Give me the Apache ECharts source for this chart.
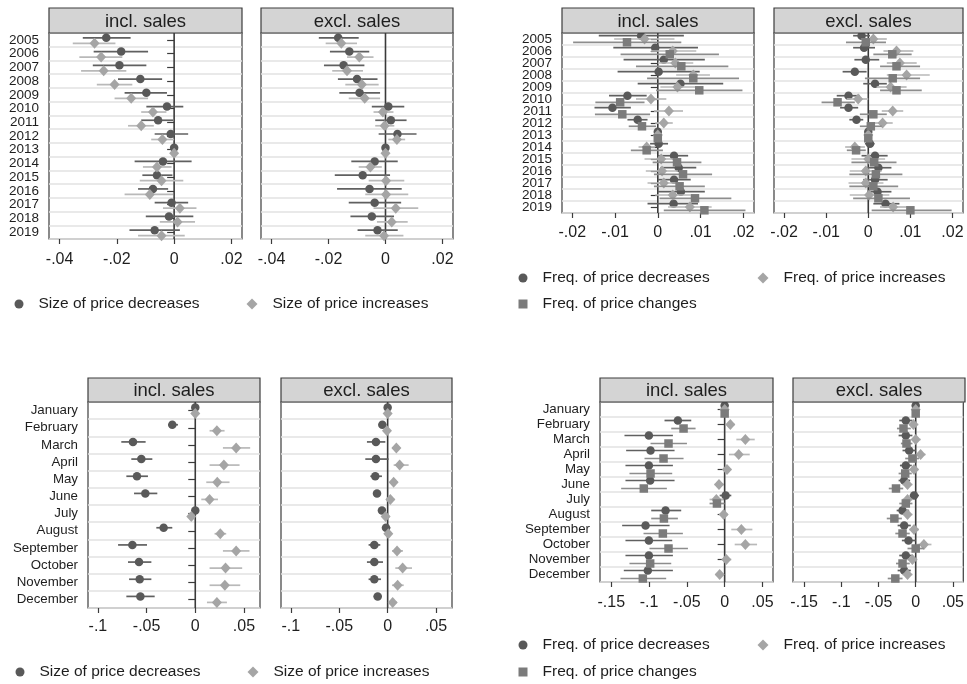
<!DOCTYPE html>
<html><head><meta charset="utf-8">
<script src="https://cdn.jsdelivr.net/npm/echarts@6/dist/echarts.min.js"></script>
<style>html,body{margin:0;padding:0;background:#fff}#c{width:967px;height:684px}</style>
</head><body><div id="c"></div>
<script>
// ---------- categories & tick labels ----------
const years = ['2005','2006','2007','2008','2009','2010','2011','2012','2013','2014','2015','2016','2017','2018','2019'];
const months = ['January','February','March','April','May','June','July','August','September','October','November','December'];
const ticksA = [-0.04, -0.02, 0, 0.02];
const ticksB = [-0.02, -0.01, 0, 0.01, 0.02];
const ticksC = [-0.1, -0.05, 0, 0.05];
const ticksD = [-0.15, -0.1, -0.05, 0, 0.05];
const legendSize = ['Size of price decreases', 'Size of price increases'];
const legendFreq = ['Freq. of price decreases', 'Freq. of price increases', 'Freq. of price changes'];

// ---------- values: [estimate, CI low, CI high] ----------
// Panel A: size by year
const sizeDecInclYr = [[-0.0237,-0.0319,-0.0152],[-0.0185,-0.0281,-0.0091],[-0.0191,-0.0284,-0.0097],[-0.0118,-0.0196,-0.0042],[-0.0097,-0.0173,-0.0025],[-0.0025,-0.0097,0.0032],[-0.0056,-0.0115,-0.0004],[-0.0012,-0.0068,0.0049],[0,null,null],[-0.0039,-0.0138,0.0061],[-0.006,-0.0111,-0.0006],[-0.0074,-0.0126,-0.0021],[-0.0009,-0.0068,0.0049],[-0.0018,-0.0099,0.0067],[-0.0068,-0.0156,0.002]];
const sizeIncInclYr = [[-0.0278,-0.0354,-0.0205],[-0.0255,-0.0331,-0.0181],[-0.0246,-0.0325,-0.0167],[-0.0208,-0.027,-0.0146],[-0.015,-0.0208,-0.0091],[-0.0074,-0.0115,-0.0027],[-0.0115,-0.0161,-0.0071],[-0.0041,-0.008,0],[0,null,null],[-0.006,-0.0109,-0.0009],[-0.0044,-0.012,0.0032],[-0.0085,-0.0173,-0.0004],[0.002,-0.0039,0.0078],[0.0012,-0.005,0.0073],[-0.0044,-0.0126,0.0037]];
const sizeDecExclYr = [[-0.0166,-0.0234,-0.0094],[-0.0127,-0.0195,-0.0057],[-0.0147,-0.0216,-0.0074],[-0.01,-0.0167,-0.0028],[-0.0091,-0.0162,-0.0019],[0.001,-0.0048,0.0066],[0.0019,-0.0036,0.0074],[0.0042,-0.0024,0.0109],[0,null,null],[-0.0038,-0.012,0.0043],[-0.008,-0.0178,0.0016],[-0.0056,-0.017,0.0057],[-0.0038,-0.0129,0.0055],[-0.0048,-0.0123,0.003],[-0.0028,-0.0098,0.0043]];
const sizeIncExclYr = [[-0.0155,-0.021,-0.01],[-0.0092,-0.0135,-0.0042],[-0.0135,-0.0187,-0.0079],[-0.0083,-0.0141,-0.0024],[-0.0073,-0.0129,-0.0019],[-0.0009,-0.0042,0.0028],[-0.0003,-0.0036,0.0031],[0.004,0.001,0.0069],[0,null,null],[-0.0053,-0.0094,-0.0013],[0.0002,-0.0059,0.0066],[0.0002,-0.0071,0.008],[0.0036,-0.0042,0.0115],[0.0022,-0.003,0.0078],[-0.0005,-0.0071,0.0063]];
// Panel B: frequency by year
const freqDecInclYr = [[-0.0039,-0.0138,0.0061],[-0.0006,-0.0104,0.0094],[0.0014,-0.008,0.011],[0.0002,-0.0094,0.0098],[0.0053,-0.0047,0.0153],[-0.0071,-0.0114,-0.0026],[-0.0106,-0.0148,-0.0063],[-0.0047,-0.0071,-0.0024],[0,null,null],[0.0002,-0.0018,0.0024],[0.0038,0,0.0071],[0.0049,0.0006,0.009],[0.0038,0,0.0077],[0.0054,0,0.011],[0.0037,-0.0024,0.0094]];
const freqIncInclYr = [[-0.0031,-0.0102,0.0039],[0.0035,-0.0016,0.009],[0.0041,0,0.0083],[0.0083,0.0043,0.0122],[0.0046,0.0006,0.0087],[-0.0016,-0.0051,0.002],[0.0026,-0.0009,0.0059],[0.0014,-0.0006,0.0035],[0,null,null],[-0.0026,-0.0045,-0.0006],[0.0008,-0.0031,0.005],[0.001,-0.0028,0.0047],[0.0014,-0.0024,0.0051],[0.0035,-0.0006,0.0077],[0.0075,0.0024,0.0126]];
const freqChgInclYr = [[-0.0072,-0.0198,0.0055],[0.0028,-0.0087,0.0143],[0.0055,-0.0051,0.0165],[0.0083,-0.0025,0.019],[0.0097,-0.0004,0.0198],[-0.0088,-0.0146,-0.0031],[-0.0083,-0.0147,-0.0018],[-0.0037,-0.0068,-0.0004],[0,null,null],[-0.0026,-0.0063,0.0012],[0.0045,-0.0012,0.0102],[0.0059,-0.0009,0.0127],[0.0051,-0.0009,0.011],[0.0087,0.0004,0.0172],[0.0109,0.0014,0.0205]];
const freqDecExclYr = [[-0.0016,-0.0036,0.0004],[-0.001,-0.0036,0.0016],[-0.0006,-0.0033,0.0026],[-0.0032,-0.0061,-0.0004],[0.0016,-0.0012,0.0044],[-0.0047,-0.0075,-0.002],[-0.0047,-0.0067,-0.0024],[-0.0028,-0.0045,-0.0012],[0,null,null],[0.0004,-0.0008,0.0015],[0.0016,-0.0016,0.0046],[0.0024,-0.0008,0.0055],[0.0016,-0.0012,0.0046],[0.0022,-0.0002,0.0055],[0.0041,0.0012,0.0074]];
const freqIncExclYr = [[0.0012,-0.0016,0.0044],[0.0067,0.0036,0.0107],[0.0075,0.0044,0.0115],[0.0091,0.0044,0.0146],[0.0053,0.002,0.0091],[-0.0024,-0.0051,0],[0.0058,0.0032,0.0083],[0.0034,0.0012,0.0058],[0,null,null],[-0.0032,-0.0055,-0.0008],[0,-0.004,0.004],[-0.0006,-0.0044,0.0032],[-0.0006,-0.0047,0.0036],[0.0002,-0.0044,0.005],[0.0059,0.0028,0.0091]];
const freqChgExclYr = [[-0.0006,-0.0053,0.0042],[0.0057,0.0012,0.0103],[0.0067,0.0028,0.0123],[0.0058,-0.0008,0.0123],[0.0067,0.0028,0.0127],[-0.0073,-0.0111,-0.0032],[0.0012,-0.002,0.0044],[0.0006,-0.002,0.0032],[0,null,null],[-0.0029,-0.0051,-0.0006],[0.0014,-0.004,0.0067],[0.0018,-0.0045,0.0081],[0.0012,-0.0045,0.0071],[0.0024,-0.0036,0.0099],[0.01,0.0008,0.0198]];
// Panel C: size by month
const sizeDecInclMo = [[0,null,null],[-0.0236,-0.028,-0.0178],[-0.064,-0.076,-0.051],[-0.0554,-0.0657,-0.0441],[-0.0599,-0.0708,-0.0486],[-0.0513,-0.0629,-0.039],[0,null,null],[-0.0325,-0.04,-0.0236],[-0.0646,-0.0793,-0.0496],[-0.0578,-0.0691,-0.0451],[-0.0571,-0.068,-0.0451],[-0.0564,-0.0708,-0.0417]];
const sizeIncInclMo = [[0,null,null],[0.0222,0.0147,0.0301],[0.042,0.0284,0.0564],[0.0294,0.0147,0.0455],[0.0226,0.0113,0.0352],[0.0147,0.0062,0.0233],[-0.0041,-0.0075,-0.0007],[0.0257,0.0198,0.0318],[0.042,0.0284,0.0557],[0.0311,0.0147,0.0482],[0.0304,0.0147,0.0462],[0.0222,0.012,0.0325]];
const sizeDecExclMo = [[0,null,null],[-0.0055,-0.0093,-0.0014],[-0.0121,-0.0214,-0.0024],[-0.0121,-0.0231,0.001],[-0.0128,-0.0179,-0.0059],[-0.011,-0.0145,-0.0076],[-0.0059,-0.01,-0.0017],[-0.0017,-0.0059,0.0028],[-0.0138,-0.0197,-0.0076],[-0.0138,-0.0214,-0.0048],[-0.0138,-0.0197,-0.0069],[-0.0103,-0.0145,-0.0059]];
const sizeIncExclMo = [[0,null,null],[-0.0007,-0.0041,0.0034],[0.009,0.0045,0.0131],[0.0124,0.0062,0.0217],[0.0062,0.0028,0.0107],[0.0028,-0.0014,0.0072],[-0.0021,-0.0059,0.0021],[0.0007,-0.0031,0.0045],[0.0097,0.0045,0.0159],[0.0155,0.0079,0.0252],[0.0103,0.0045,0.0166],[0.0052,0.001,0.0097]];
// Panel D: frequency by month
const freqDecInclMo = [[0,null,null],[-0.0619,-0.0796,-0.0442],[-0.1003,-0.1326,-0.0685],[-0.0981,-0.1304,-0.0663],[-0.1003,-0.1313,-0.0685],[-0.0986,-0.1313,-0.0663],[0.0013,-0.0066,0.0088],[-0.0782,-0.0972,-0.0575],[-0.1047,-0.1357,-0.0729],[-0.1003,-0.1313,-0.0694],[-0.1003,-0.1313,-0.0685],[-0.1017,-0.1335,-0.0685]];
const freqIncInclMo = [[0,null,null],[0.0075,0.003,0.0133],[0.0274,0.0155,0.0398],[0.0186,0.0057,0.0332],[0.0031,-0.0022,0.0088],[-0.0075,-0.0133,-0.0013],[-0.011,-0.02,-0.0013],[-0.0013,-0.0066,0.0044],[0.0221,0.0088,0.0367],[0.0274,0.0133,0.0429],[0.0022,-0.0031,0.0088],[-0.0066,-0.0119,-0.0009]];
const freqChgInclMo = [[0,null,null],[-0.0544,-0.0707,-0.0385],[-0.0743,-0.0981,-0.0499],[-0.0809,-0.1061,-0.0544],[-0.0981,-0.126,-0.0694],[-0.107,-0.137,-0.0765],[-0.0102,-0.02,0],[-0.0804,-0.0972,-0.0619],[-0.0818,-0.1074,-0.0553],[-0.0743,-0.0995,-0.0486],[-0.0986,-0.126,-0.0707],[-0.1083,-0.1379,-0.0774]];
const freqDecExclMo = [[0,null,null],[-0.0133,-0.0221,-0.0044],[-0.0133,-0.023,-0.0044],[-0.0088,-0.0177,0],[-0.0133,-0.0212,-0.0053],[-0.0155,-0.023,-0.0075],[-0.0022,-0.008,0.0044],[-0.0177,-0.0256,-0.0088],[-0.0155,-0.0243,-0.0066],[-0.0097,-0.0186,0],[-0.0133,-0.0221,-0.0044],[-0.0155,-0.0243,-0.0066]];
const freqIncExclMo = [[0,null,null],[-0.0031,-0.0088,0.0035],[0,-0.0053,0.0066],[0.0066,0,0.0133],[-0.0022,-0.008,0.0035],[-0.011,-0.0177,-0.0044],[-0.011,-0.0177,-0.0044],[-0.011,-0.0168,-0.0044],[-0.0022,-0.0088,0.0044],[0.011,0.0022,0.0212],[-0.0044,-0.011,0.0022],[-0.011,-0.0177,-0.0044]];
const freqChgExclMo = [[0,null,null],[-0.0164,-0.0252,-0.0066],[-0.0124,-0.0199,-0.0044],[-0.0044,-0.0141,0.0044],[-0.0141,-0.023,-0.0053],[-0.0265,-0.0362,-0.0168],[-0.0133,-0.0221,-0.0044],[-0.0287,-0.0389,-0.0186],[-0.0177,-0.0274,-0.008],[0,-0.011,0.011],[-0.0177,-0.0265,-0.008],[-0.0274,-0.0376,-0.0177]];

// ---------- styles ----------
const FONT = 'Liberation Sans, Arial, sans-serif';
const TXT = '#1e1e1e';
const STY = {
  dec: {symbol: 'circle', size: 8.5, color: '#595959', ci: '#606060'},
  inc: {symbol: 'diamond', size: [10, 11], color: '#a5a5a5', ci: '#b9b9b9'},
  chg: {symbol: 'rect', size: 8.5, color: '#7b7b7b', ci: '#8d8d8d'}
};

const subplots = [
  {grid:{left:49,top:33,width:193,height:206}, cats:years, range:[-0.0437,0.0237], ticks:ticksA, showY:true, title:'incl. sales', head:[8,25], xMargin:13, yFont:13.5,
   series:[{name:legendSize[0], data:sizeDecInclYr, k:'dec', off:-2},{name:legendSize[1], data:sizeIncInclYr, k:'inc', off:3.5}]},
  {grid:{left:261,top:33,width:192,height:206}, cats:years, range:[-0.0437,0.0237], ticks:ticksA, showY:false, title:'excl. sales', head:[8,25], xMargin:13, yFont:13.5,
   series:[{name:legendSize[0], data:sizeDecExclYr, k:'dec', off:-2},{name:legendSize[1], data:sizeIncExclYr, k:'inc', off:3.5}]},
  {grid:{left:562,top:33,width:192,height:180}, cats:years, range:[-0.0224,0.0225], ticks:ticksB, showY:true, title:'incl. sales', head:[8,25], xMargin:12, yFont:13.5,
   series:[{name:legendFreq[0], data:freqDecInclYr, k:'dec', off:-3.3},{name:legendFreq[1], data:freqIncInclYr, k:'inc', off:0},{name:legendFreq[2], data:freqChgInclYr, k:'chg', off:3.3}]},
  {grid:{left:774,top:33,width:189,height:180}, cats:years, range:[-0.0224,0.0225], ticks:ticksB, showY:false, title:'excl. sales', head:[8,25], xMargin:12, yFont:13.5,
   series:[{name:legendFreq[0], data:freqDecExclYr, k:'dec', off:-3.3},{name:legendFreq[1], data:freqIncExclYr, k:'inc', off:0},{name:legendFreq[2], data:freqChgExclYr, k:'chg', off:3.3}]},
  {grid:{left:88,top:402,width:172,height:206}, cats:months, range:[-0.1102,0.0665], ticks:ticksC, showY:true, title:'incl. sales', head:[378,24], xMargin:11, yFont:13.3,
   series:[{name:legendSize[0], data:sizeDecInclMo, k:'dec', off:-3},{name:legendSize[1], data:sizeIncInclMo, k:'inc', off:3}]},
  {grid:{left:281,top:402,width:171,height:206}, cats:months, range:[-0.1102,0.0665], ticks:ticksC, showY:false, title:'excl. sales', head:[378,24], xMargin:11, yFont:13.3,
   series:[{name:legendSize[0], data:sizeDecExclMo, k:'dec', off:-3},{name:legendSize[1], data:sizeIncExclMo, k:'inc', off:3}]},
  {grid:{left:600,top:402,width:173,height:180}, cats:months, range:[-0.165,0.064], ticks:ticksD, showY:true, title:'incl. sales', head:[378,24], xMargin:13, yFont:13.3,
   series:[{name:legendFreq[0], data:freqDecInclMo, k:'dec', off:-4},{name:legendFreq[1], data:freqIncInclMo, k:'inc', off:0},{name:legendFreq[2], data:freqChgInclMo, k:'chg', off:4}]},
  {grid:{left:793,top:402,width:172,height:180}, cats:months, range:[-0.165,0.064], ticks:ticksD, showY:false, title:'excl. sales', head:[378,24], xMargin:13, yFont:13.3,
   series:[{name:legendFreq[0], data:freqDecExclMo, k:'dec', off:-4},{name:legendFreq[1], data:freqIncExclMo, k:'inc', off:0},{name:legendFreq[2], data:freqChgExclMo, k:'chg', off:4}]}
];

function fmt(v) {
  if (v === 0) return '0';
  const s = String(Math.abs(v)).replace(/^0/, '');
  return (v < 0 ? '-' : '') + s;
}

const grids = [], xAxes = [], yAxes = [], series = [], graphics = [];
subplots.forEach((sp, gi) => {
  grids.push(Object.assign({show: true, borderColor: '#3c3c3c', borderWidth: 1.2, backgroundColor: '#fff'}, sp.grid));
  xAxes.push({
    type: 'value', gridIndex: gi, min: sp.range[0], max: sp.range[1],
    axisLine: {show: false},
    axisTick: {show: true, customValues: sp.ticks, length: 5, lineStyle: {color: '#3c3c3c', width: 1.2}},
    axisLabel: {customValues: sp.ticks, formatter: fmt, fontSize: 16, fontFamily: FONT, color: TXT, margin: sp.xMargin},
    splitLine: {show: false}
  });
  yAxes.push({
    type: 'category', gridIndex: gi, data: sp.cats, inverse: true, boundaryGap: true,
    axisLine: {show: false},
    axisTick: {show: sp.showY, alignWithLabel: true, length: 7, lineStyle: {color: '#3c3c3c', width: 1.2}},
    axisLabel: {show: sp.showY, fontSize: sp.yFont, fontFamily: FONT, color: TXT, margin: 10, interval: 0},
    splitLine: {show: true, lineStyle: {color: '#e2e2e2', width: 1.6}}
  });
  // zero reference line
  series.push({
    type: 'custom', xAxisIndex: gi, yAxisIndex: gi, z: 2, silent: true,
    data: [[0, 0]], encode: {x: 0, y: 1},
    renderItem: (params, api) => {
      const cs = params.coordSys;
      const x = api.coord([0, 0])[0];
      return {type: 'line', shape: {x1: x, y1: cs.y, x2: x, y2: cs.y + cs.height},
              style: {stroke: '#3a3a3a', lineWidth: 1.6}};
    }
  });
  sp.series.forEach((s, si) => {
    const st = STY[s.k];
    const off = s.off;
    series.push({
      type: 'custom', xAxisIndex: gi, yAxisIndex: gi, z: 3 + si * 2, silent: true,
      data: s.data.map((d, i) => [d[1], d[2], i]).filter(d => d[0] !== null),
      encode: {x: [0, 1], y: 2},
      renderItem: (params, api) => {
        const a = api.coord([api.value(0), api.value(2)]);
        const b = api.coord([api.value(1), api.value(2)]);
        return {type: 'line', shape: {x1: a[0], y1: a[1] + off, x2: b[0], y2: b[1] + off},
                style: {stroke: st.ci, lineWidth: 1.7}};
      }
    });
    series.push({
      type: 'scatter', name: s.name, xAxisIndex: gi, yAxisIndex: gi, z: 4 + si * 2,
      symbol: st.symbol, symbolSize: st.size, symbolOffset: [0, off],
      itemStyle: {color: st.color, opacity: 1},
      data: s.data.map((d, i) => [d[0], i])
    });
  });
  // panel header strip
  const g = sp.grid;
  graphics.push({type: 'rect', shape: {x: g.left, y: sp.head[0], width: g.width, height: sp.head[1]},
                 style: {fill: '#d4d4d4', stroke: '#3c3c3c', lineWidth: 1.2}, z: 10});
  graphics.push({type: 'text', z: 11, style: {text: sp.title, x: g.left + g.width / 2, y: sp.head[0] + sp.head[1] / 2 + 1,
                 align: 'center', verticalAlign: 'middle', font: '18.5px ' + FONT, fill: TXT}});
});

function legendItem(name, left, cy, icon, w, h) {
  return {
    data: [{name: name, icon: icon}], left: left - w / 2, top: cy - 10, padding: 0,
    itemWidth: w, itemHeight: h, itemGap: 0, selectedMode: false,
    textStyle: {fontSize: 15.5, fontFamily: FONT, color: TXT, padding: [0, 0, 0, 10], lineHeight: 20}
  };
}
const legends = [
  legendItem(legendSize[0], 19, 304, 'circle', 9, 9),
  legendItem(legendSize[1], 252, 304, 'diamond', 11, 11),
  legendItem(legendFreq[0], 523, 278, 'circle', 9, 9),
  legendItem(legendFreq[1], 763, 278, 'diamond', 11, 11),
  legendItem(legendFreq[2], 523, 304, 'rect', 9, 9),
  legendItem(legendSize[0], 20, 672, 'circle', 9, 9),
  legendItem(legendSize[1], 253, 672, 'diamond', 11, 11),
  legendItem(legendFreq[0], 523, 645, 'circle', 9, 9),
  legendItem(legendFreq[1], 763, 645, 'diamond', 11, 11),
  legendItem(legendFreq[2], 523, 672, 'rect', 9, 9)
];

const chart = echarts.init(document.getElementById('c'), null, {renderer: 'canvas'});
chart.setOption({
  animation: false, backgroundColor: '#fff',
  grid: grids, xAxis: xAxes, yAxis: yAxes, series: series, legend: legends, graphic: graphics
});
</script></body></html>
